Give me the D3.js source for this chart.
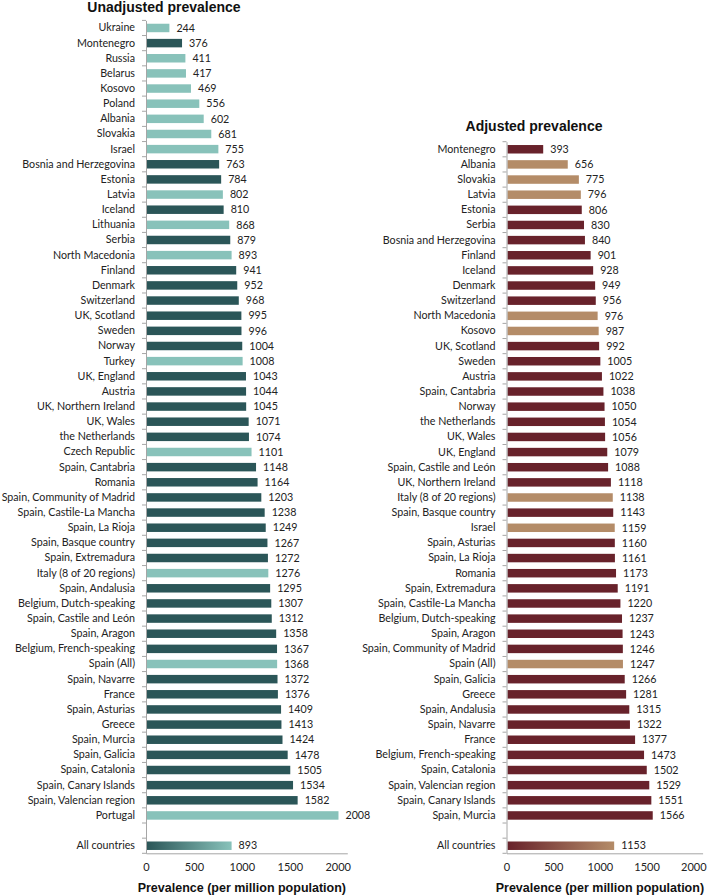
<!DOCTYPE html>
<html>
<head>
<meta charset="utf-8">
<script src="https://cdn.jsdelivr.net/npm/d3@7"></script>
<style>
  html, body { margin: 0; padding: 0; background: #fff; }
  svg { display: block; }
</style>
</head>
<body>
<svg id="chart" width="708" height="895"></svg>
<script>
// ---------- DATA ----------
const unadjCategories = [
  "Ukraine","Montenegro","Russia","Belarus","Kosovo","Poland","Albania","Slovakia","Israel",
  "Bosnia and Herzegovina","Estonia","Latvia","Iceland","Lithuania","Serbia","North Macedonia",
  "Finland","Denmark","Switzerland","UK, Scotland","Sweden","Norway","Turkey","UK, England",
  "Austria","UK, Northern Ireland","UK, Wales","the Netherlands","Czech Republic","Spain, Cantabria",
  "Romania","Spain, Community of Madrid","Spain, Castile-La Mancha","Spain, La Rioja",
  "Spain, Basque country","Spain, Extremadura","Italy (8 of 20 regions)","Spain, Andalusia",
  "Belgium, Dutch-speaking","Spain, Castile and León","Spain, Aragon","Belgium, French-speaking",
  "Spain (All)","Spain, Navarre","France","Spain, Asturias","Greece","Spain, Murcia","Spain, Galicia",
  "Spain, Catalonia","Spain, Canary Islands","Spain, Valencian region","Portugal"
];
const unadjValues = [
  244,376,411,417,469,556,602,681,755,
  763,784,802,810,868,879,893,
  941,952,968,995,996,1004,1008,1043,
  1044,1045,1071,1074,1101,1148,
  1164,1203,1238,1249,
  1267,1272,1276,1295,
  1307,1312,1358,1367,
  1368,1372,1376,1409,1413,1424,1478,
  1505,1534,1582,2008
];
const unadjLight = ["Ukraine","Russia","Belarus","Kosovo","Poland","Albania","Slovakia","Israel",
  "Latvia","Lithuania","North Macedonia","Turkey","Czech Republic","Italy (8 of 20 regions)",
  "Spain (All)","Portugal"];
const unadjAll = 893;

const adjCategories = [
  "Montenegro","Albania","Slovakia","Latvia","Estonia","Serbia","Bosnia and Herzegovina","Finland",
  "Iceland","Denmark","Switzerland","North Macedonia","Kosovo","UK, Scotland","Sweden","Austria",
  "Spain, Cantabria","Norway","the Netherlands","UK, Wales","UK, England","Spain, Castile and León",
  "UK, Northern Ireland","Italy (8 of 20 regions)","Spain, Basque country","Israel","Spain, Asturias",
  "Spain, La Rioja","Romania","Spain, Extremadura","Spain, Castile-La Mancha","Belgium, Dutch-speaking",
  "Spain, Aragon","Spain, Community of Madrid","Spain (All)","Spain, Galicia","Greece","Spain, Andalusia",
  "Spain, Navarre","France","Belgium, French-speaking","Spain, Catalonia","Spain, Valencian region",
  "Spain, Canary Islands","Spain, Murcia"
];
const adjValues = [
  393,656,775,796,806,830,840,901,
  928,949,956,976,987,992,1005,1022,
  1038,1050,1054,1056,1079,1088,
  1118,1138,1143,1159,1160,
  1161,1173,1191,1220,1237,
  1243,1246,1247,1266,1281,1315,
  1322,1377,1473,1502,1529,
  1551,1566
];
const adjLight = ["Albania","Slovakia","Latvia","North Macedonia","Kosovo","Italy (8 of 20 regions)",
  "Israel","Spain (All)"];
const adjAll = 1153;

const xTicks = [0, 500, 1000, 1500, 2000];
const xTitle = "Prevalence (per million population)";
const allLabel = "All countries";

// ---------- DRAW ----------
const svg = d3.select("#chart");
const labelFont = "Lato, 'Noto Sans', sans-serif";
const labelSize = 10.7;

function panel(opts) {
  const { id, title, cats, vals, light, allVal, x0, x1, yTop, yBot, dark, lite, titleX, titleY } = opts;
  const g = svg.append("g");
  const domain = cats.concat(["__blank__", allLabel]);
  const y = d3.scaleBand().domain(domain).range([yTop, yBot]).paddingInner(0.44).paddingOuter(0.22);
  const x = d3.scaleLinear().domain([0, 2100]).range([x0, x1]);
  const bw = y.bandwidth();
  const step = y.step();

  const grad = svg.append("defs").append("linearGradient").attr("id", "grad-" + id)
    .attr("x1", "0%").attr("x2", "100%").attr("y1", "0%").attr("y2", "0%");
  grad.append("stop").attr("offset", "0%").attr("stop-color", dark);
  grad.append("stop").attr("offset", "100%").attr("stop-color", lite);

  g.append("text").attr("x", titleX).attr("y", titleY)
    .attr("text-anchor", "middle").attr("font-family", "'Liberation Sans', Arial, sans-serif")
    .attr("font-weight", "bold").attr("font-size", 14).attr("fill", "#111").text(title);

  const data = cats.map((c, i) => ({ c, v: vals[i], color: light.includes(c) ? lite : dark }));
  data.push({ c: allLabel, v: allVal, color: "url(#grad-" + id + ")" });

  g.selectAll("rect.bar").data(data).join("rect").attr("class", "bar")
    .attr("x", x(0) + 1).attr("y", d => y(d.c))
    .attr("width", d => x(d.v) - x(0) - 1).attr("height", bw)
    .attr("fill", d => d.color);

  g.selectAll("text.val").data(data).join("text").attr("class", "val")
    .attr("x", d => x(d.v) + 7).attr("y", d => y(d.c) + bw / 2).attr("dy", "0.35em")
    .attr("font-family", labelFont).attr("font-size", labelSize).attr("fill", "#222")
    .text(d => d.v);

  const yAxis = d3.axisLeft(y).tickSize(0).tickPadding(11)
    .tickFormat(d => d === "__blank__" ? "" : d);
  const ya = g.append("g").attr("transform", `translate(${x(0)},0)`).call(yAxis);
  ya.select(".domain").attr("stroke", "#a6a6a6");
  ya.selectAll("text").attr("font-family", labelFont).attr("font-size", labelSize).attr("fill", "#222");
  const bounds = domain.map(d => y(d) - (step - bw) / 2).concat([yBot]);
  g.selectAll("line.yt").data(bounds).join("line").attr("class", "yt")
    .attr("x1", x(0) - 4).attr("x2", x(0)).attr("y1", d => d).attr("y2", d => d)
    .attr("stroke", "#a6a6a6");

  const xAxis = d3.axisBottom(x).tickValues(xTicks).tickFormat(d3.format("d")).tickSize(0).tickPadding(10);
  const xa = g.append("g").attr("transform", `translate(0,${yBot})`).call(xAxis);
  xa.select(".domain").attr("stroke", "#a6a6a6");
  xa.selectAll("text").attr("font-family", labelFont).attr("font-size", 11).attr("fill", "#222");

  g.append("text").attr("x", (x(0) + x(2000)) / 2).attr("y", yBot + 39)
    .attr("text-anchor", "middle").attr("font-family", "'Liberation Sans', Arial, sans-serif")
    .attr("font-weight", "bold").attr("font-size", 12.5).attr("fill", "#111").text(xTitle);
}

panel({ id: "u", title: "Unadjusted prevalence", cats: unadjCategories, vals: unadjValues,
  light: unadjLight, allVal: unadjAll, x0: 146, x1: 347.3, yTop: 20.4, yBot: 853.3,
  dark: "#2b5658", lite: "#88c2ba", titleX: 164, titleY: 12 });
panel({ id: "a", title: "Adjusted prevalence", cats: adjCategories, vals: adjValues,
  light: adjLight, allVal: adjAll, x0: 506.5, x1: 702.6, yTop: 141.7, yBot: 853.3,
  dark: "#68222b", lite: "#b48c68", titleX: 534, titleY: 131 });
</script>
</body>
</html>
